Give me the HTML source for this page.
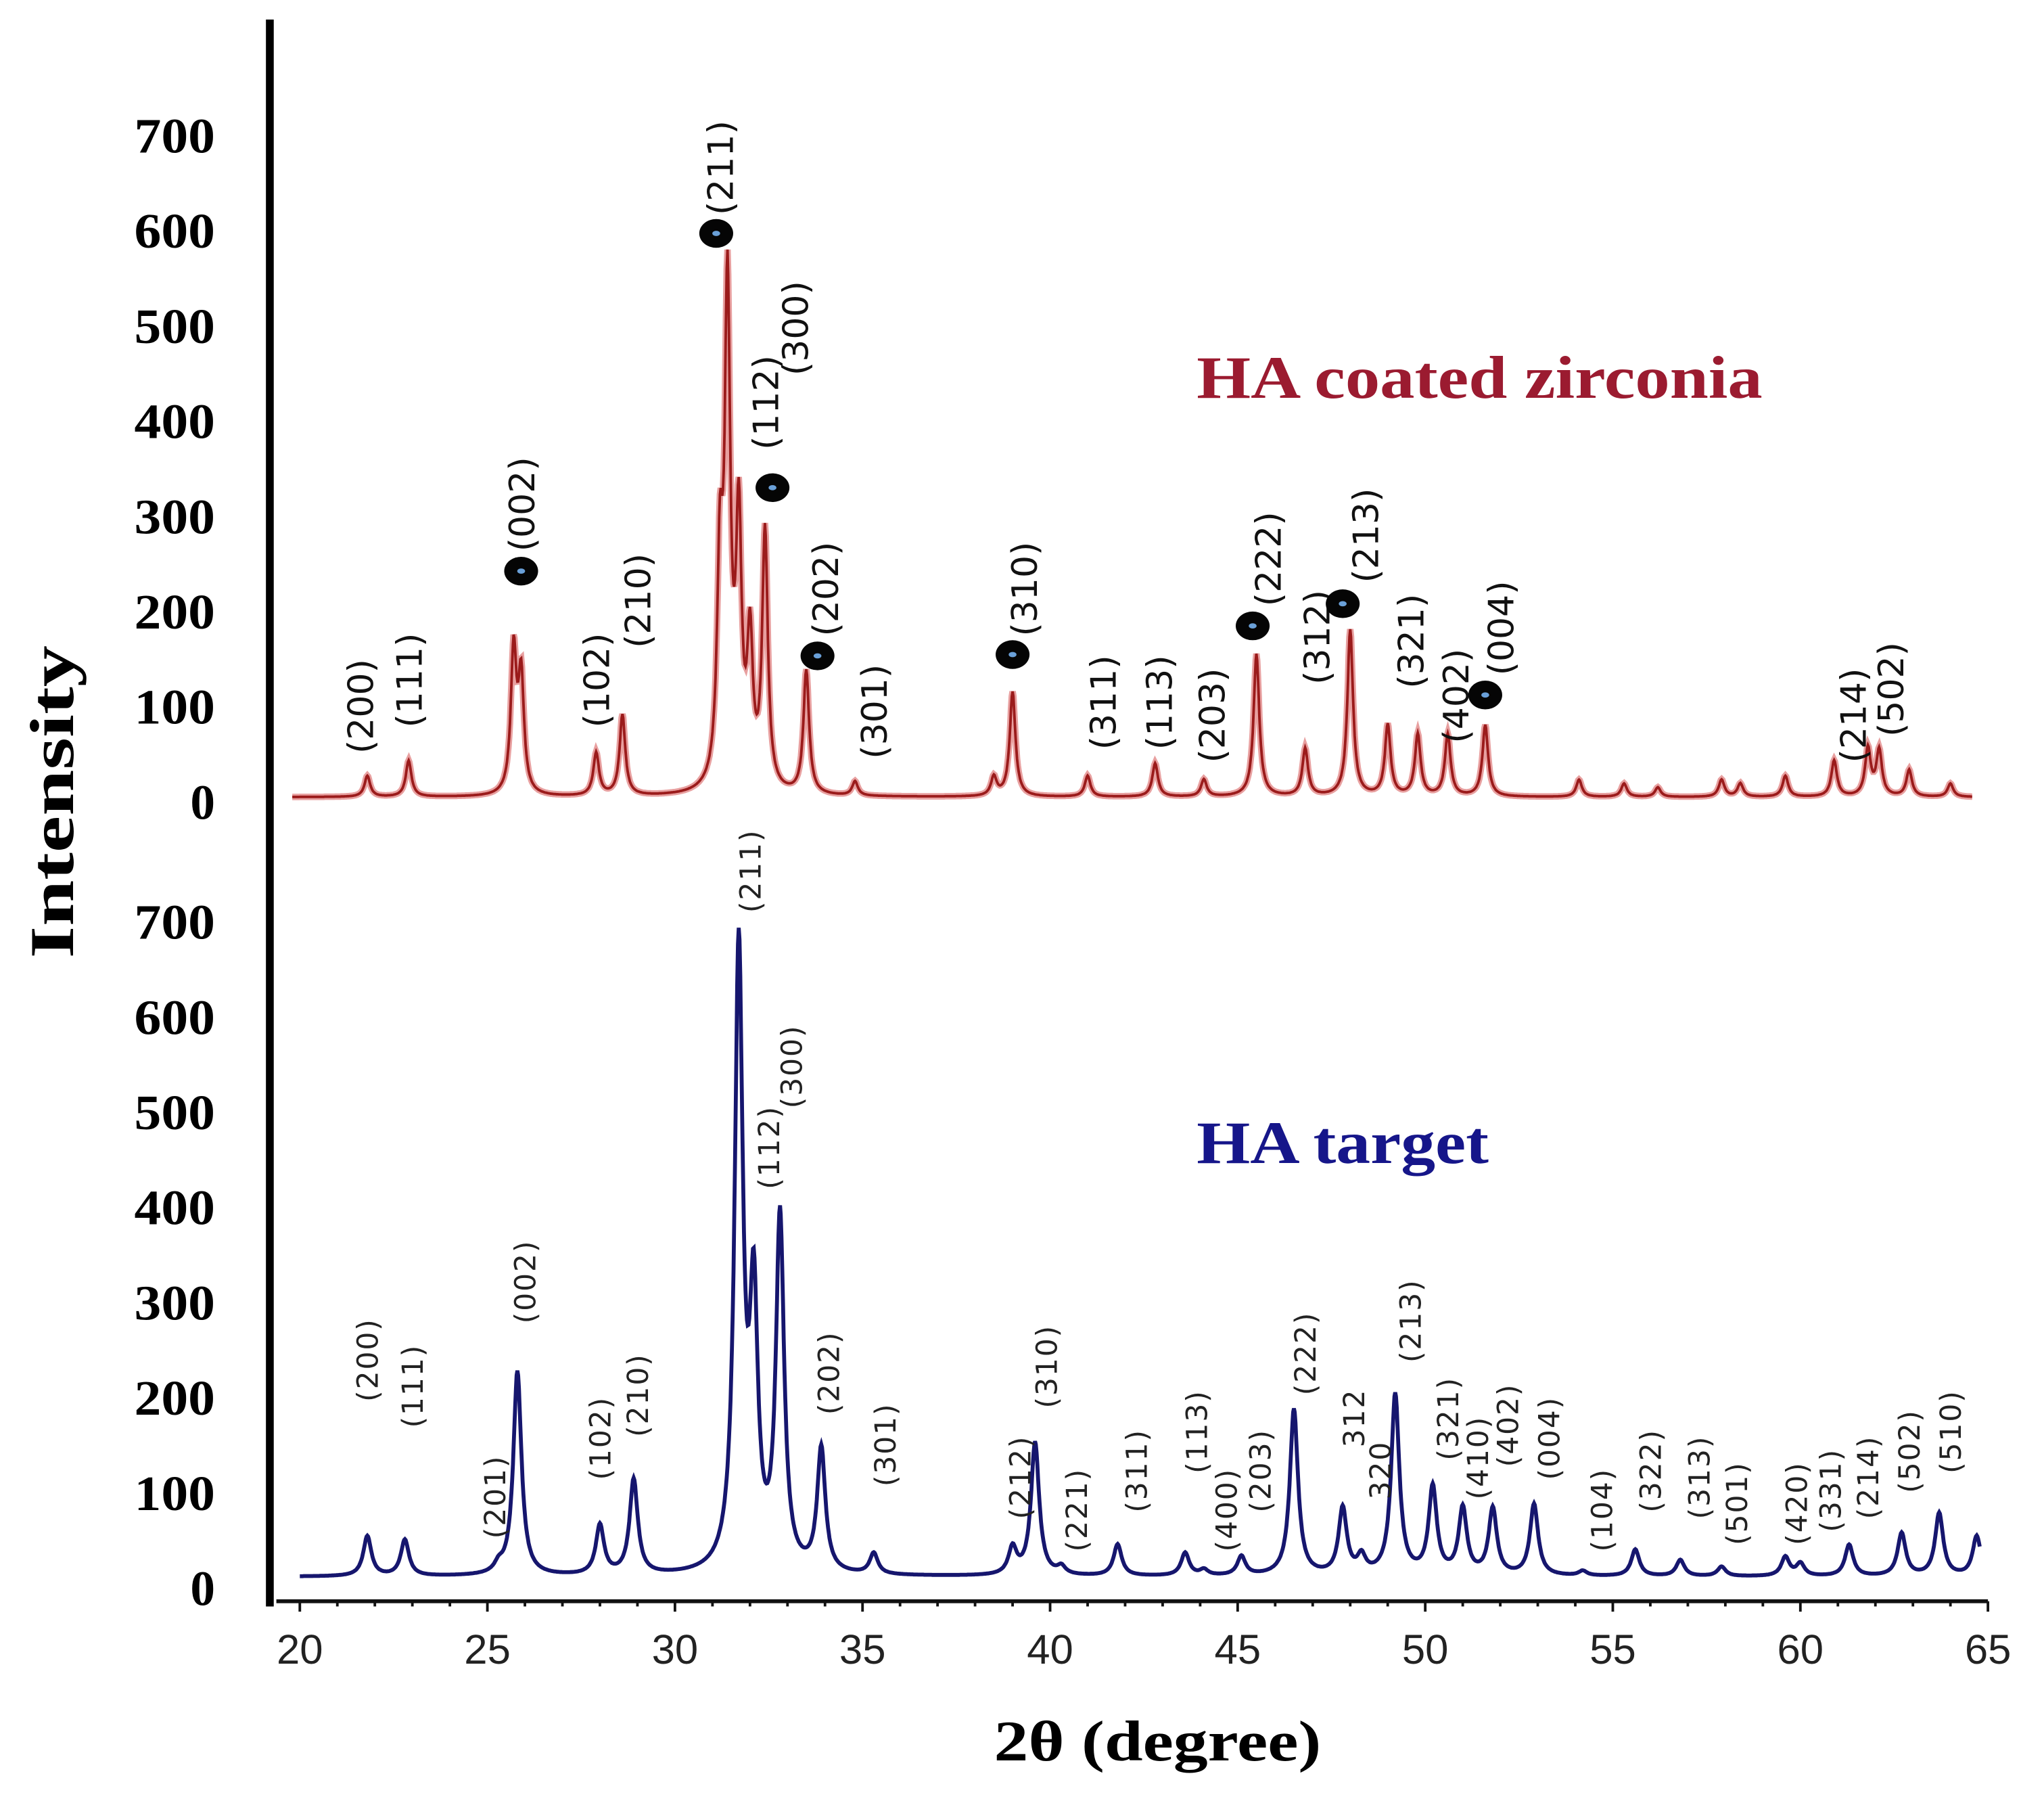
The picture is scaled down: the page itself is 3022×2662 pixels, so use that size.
<!DOCTYPE html>
<html><head><meta charset="utf-8"><style>
html,body{margin:0;padding:0;background:#fff;}
svg{display:block;}
</style></head><body>
<svg id="chart" width="3022" height="2662" viewBox="0 0 1568 1381.2" preserveAspectRatio="none" xmlns="http://www.w3.org/2000/svg">
<g id="axes"></g>
<g id="series"></g>
<g id="labels"></g>
<text transform="translate(56,615) rotate(-90)" text-anchor="middle" font-family="Liberation Serif, serif" font-weight="bold" font-size="48" textLength="240" lengthAdjust="spacingAndGlyphs">Intensity</text>
<text x="888" y="1350" text-anchor="middle" font-family="Liberation Serif, serif" font-weight="bold" font-size="44" textLength="251" lengthAdjust="spacingAndGlyphs">2θ (degree)</text>
<text x="918" y="305" font-family="Liberation Serif, serif" font-weight="bold" font-size="46" fill="#9b1b30" textLength="434" lengthAdjust="spacingAndGlyphs">HA coated zirconia</text>
<text x="918" y="892" font-family="Liberation Serif, serif" font-weight="bold" font-size="46" fill="#16168a" textLength="224" lengthAdjust="spacingAndGlyphs">HA target</text>
</svg>
<script>
// ---- data ----
const yTicks = [0,100,200,300,400,500,600,700];
const xTicks = [20,25,30,35,40,45,50,55,60,65];
const redPos = [21.8,22.9,25.7,25.9,27.9,28.6,31.2,31.4,31.7,32.0,32.4,33.5,34.8,38.5,39.0,41.0,42.8,44.1,45.5,46.8,48.0,49.0,49.8,50.6,51.6,54.1,55.3,56.2,57.9,58.4,59.6,60.9,61.8,62.1,62.9,64.0];
const redInt = [22,38,150,120,45,85,220,510,270,150,270,130,15,20,110,22,35,18,150,50,175,75,65,65,75,18,14,10,18,14,22,38,50,48,28,14];
const redBase = 5;
const bluePos = [21.8,22.8,25.3,25.8,28.0,28.9,31.7,32.1,32.8,33.9,35.3,39.0,39.6,40.3,41.8,43.6,44.1,45.1,46.5,47.8,48.3,49.2,50.2,51.0,51.8,52.9,54.2,55.6,56.8,57.9,59.6,60.0,61.3,62.7,63.7,64.7];
const blueInt = [42,38,8,215,52,100,650,270,370,130,22,28,140,8,33,24,6,20,175,70,18,190,92,70,70,75,5,28,17,10,20,13,33,45,66,42];
const blueBase = 12;
const redLabels = ["(200)","(111)","(002)","(102)","(210)","(211)","(112)","(300)","(202)","(301)","(310)","(311)","(113)","(203)","(222)","(312)","(213)","(321)","(402)","(004)","(214)","(502)"];
const redLabelX = [21.6,22.9,25.9,27.9,29.0,31.2,32.4,33.2,34.0,35.3,39.3,41.4,42.9,44.3,45.8,47.1,48.4,49.6,50.8,52.0,61.4,62.4];
const redLabelY = [578,558,423,558,497,165,345,288,488,582,488,575,575,585,465,525,447,528,570,518,585,565];
const redMarkers = [25.9,31.1,32.6,33.8,39.0,45.4,47.8,51.6];
const redMarkerY = [438,179,374,503,502,480,463,533];
const blueLabels = ["(200)","(111)","(201)","(002)","(102)","(210)","(211)","(112)","(300)","(202)","(301)","(212)","(310)","(221)","(311)","(113)","(400)","(203)","(222)","312","320","(213)","(321)","(410)","(402)","(004)","(104)","(322)","(313)","(501)","(420)","(331)","(214)","(502)","(510)"];
const blueLabelX = [21.8,23.0,25.2,26.0,28.0,29.0,32.0,32.5,33.1,34.1,35.6,39.2,39.9,40.7,42.3,43.9,44.7,45.6,46.8,48.1,48.8,49.6,50.6,51.4,52.2,53.3,54.7,56.0,57.3,58.3,59.9,60.8,61.8,62.9,64.0];
const blueLabelY = [1075,1095,1180,1015,1135,1102,700,912,850,1085,1140,1165,1080,1190,1160,1130,1190,1160,1070,1110,1150,1045,1120,1150,1125,1135,1190,1160,1165,1185,1185,1175,1165,1145,1130];

// ---- scales ----
const NS="http://www.w3.org/2000/svg";
const xS = d => 230 + (d-20)*(1525-230)/45;
const yTop = v => 615 - v*0.73;
const yBot = v => 1218 - v*0.73;
function mk(tag, attrs, parent){const e=document.createElementNS(NS,tag);for(const k in attrs)e.setAttribute(k,attrs[k]);parent.appendChild(e);return e;}
const axes=document.getElementById('axes'), series=document.getElementById('series'), labels=document.getElementById('labels');

let yl=mk('line',{x1:207,y1:15,x2:207,y2:1232,stroke:'#000','stroke-width':6},axes);


let xl=mk('line',{x1:212,y1:1228,x2:1525,y2:1228,stroke:'#111','stroke-width':3},axes);


for(let d=20; d<=65; d++){
  const t=mk('line',{x1:xS(d),y1:1228,x2:xS(d),y2:(d%5===0?1236:1232),stroke:'#111','stroke-width':2},axes);
  
  
}
xTicks.forEach(v=>{
  const t=mk('text',{x:xS(v),y:1276,'text-anchor':'middle','font-family':'Liberation Sans, sans-serif','font-size':32,fill:'#222'},axes);
  t.textContent=v;
  
  
});
yTicks.forEach(v=>{
  [yTop,yBot].forEach((f,i)=>{
    const t=mk('text',{x:165,y:f(v)+13,'text-anchor':'end','font-family':'Liberation Serif, serif','font-weight':'bold','font-size':38,fill:'#000'},axes);
    t.textContent=v;
    if(v>0){t.setAttribute('textLength', v>=100?62:20);t.setAttribute('lengthAdjust','spacingAndGlyphs');}
    
    
  });
});

// ---- series ----
function profile(pos,ints,base,d,w){let s=base;for(let i=0;i<pos.length;i++){const z=(d-pos[i])/w;s+=ints[i]/(1+z*z);}return s;}
function path(pos,ints,base,f,x0,x1,w){let p='';for(let d=x0;d<=x1;d+=0.02){p+=(p?'L':'M')+xS(d).toFixed(1)+','+f(profile(pos,ints,base,d,w)).toFixed(1);}return p;}
const rp=mk('path',{d:path(redPos,redInt,redBase,yTop,19.8,64.6,0.09),fill:'none',stroke:'#e8a0a0','stroke-width':5},series);


const rl=mk('path',{d:path(redPos,redInt,redBase,yTop,19.8,64.6,0.09),fill:'none',stroke:'#9b1b1b','stroke-width':2},series);


const bl=mk('path',{d:path(bluePos,blueInt,blueBase,yBot,20,64.8,0.13),fill:'none',stroke:'#16166e','stroke-width':3},series);



// ---- labels ----
redLabels.forEach((s,i)=>{
  const x=xS(redLabelX[i])+10, y=redLabelY[i];
  const t=mk('text',{transform:`translate(${x},${y}) rotate(-90)`,'font-family':'DejaVu Sans, sans-serif','font-size':27,fill:'#111'},labels);
  t.textContent=s;
  
  
});
redMarkers.forEach((d,i)=>{
  const e=mk('ellipse',{cx:xS(d),cy:redMarkerY[i],rx:13,ry:11,fill:'#050505'},labels);
  
  
  const c=mk('ellipse',{cx:xS(d),cy:redMarkerY[i],rx:3,ry:2,fill:'#6aa0d8'},labels);
  
  
});
blueLabels.forEach((s,i)=>{
  const x=xS(blueLabelX[i])+8, y=blueLabelY[i];
  const t=mk('text',{transform:`translate(${x},${y}) rotate(-90)`,'font-family':'DejaVu Sans, sans-serif','font-size':22,fill:'#222','letter-spacing':1},labels);
  t.textContent=s;
  
  
});
</script>
</body></html>
